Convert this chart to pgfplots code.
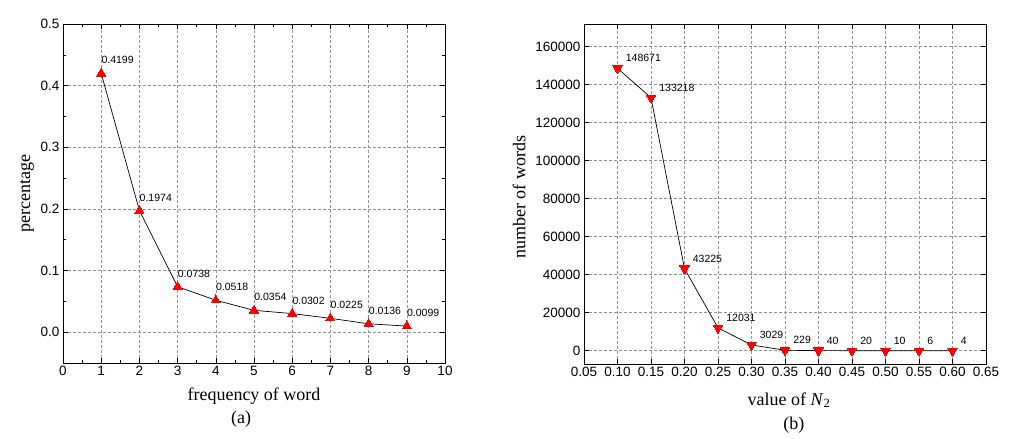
\documentclass[border=0pt]{standalone}
\usepackage{fontspec}
\setmainfont{Liberation Serif}
\setsansfont{Liberation Sans}
\usepackage{pgfplots}
\pgfplotsset{compat=1.18}
\pgfplotsset{
  myax/.style={
    scale only axis,
    anchor=south west,
    axis line style={black, line width=0.8pt},
    tick style={black, line width=0.6pt},
    tick align=inside,
    major tick length=5pt,
    minor tick length=3pt,
    xtick pos=both, ytick pos=both,
    grid=major,
    major grid style={gray!85, dash pattern=on 3pt off 2pt, line width=0.6pt},
    ticklabel style={font=\sffamily\fontsize{13.5}{15}\selectfont},
    /pgf/number format/assume math mode=true,
    label style={font=\rmfamily\fontsize{18}{20}\selectfont},
    nodes near coords,
    point meta=explicit symbolic,
    every node near coord/.append style={font=\sffamily\fontsize{10.5}{12}\selectfont, black, anchor=west},
    clip=false,
  }
}
\begin{document}
\begin{tikzpicture}
\useasboundingbox (0pt,0pt) rectangle (1021pt,439pt);
% ---------- (a)
\begin{axis}[myax,
  at={(63pt,76pt)}, width=382pt, height=339pt,
  xmin=0, xmax=10, ymin=-0.05, ymax=0.5,
  xtick={0,1,2,3,4,5,6,7,8,9,10},
  ytick={0,0.1,0.2,0.3,0.4,0.5},
  minor x tick num=1, minor y tick num=1,
  yticklabel style={/pgf/number format/.cd, fixed, fixed zerofill, precision=1},
  xlabel={frequency of word},
  xlabel style={at={(axis description cs:0.5,0)}, anchor=center, yshift=-33pt},
  ylabel={percentage},
  ylabel style={at={([xshift=-36pt]axis description cs:0,0.5)}, anchor=center},
  every node near coord/.append style={xshift=-3pt, yshift=13pt},
]
\addplot[black, line width=0.7pt, mark=triangle*, mark size=5.3pt,
  mark options={fill=red, draw=red, line width=0pt}] coordinates {
  (1,0.4199) [0.4199]
  (2,0.1974) [0.1974]
  (3,0.0738) [0.0738]
  (4,0.0518) [0.0518]
  (5,0.0354) [0.0354]
  (6,0.0302) [0.0302]
  (7,0.0225) [0.0225]
  (8,0.0136) [0.0136]
  (9,0.0099) [0.0099]
};
\node[font=\rmfamily\fontsize{18}{20}\selectfont] at ([yshift=-56pt]axis description cs:0.466,0) {(a)};
\end{axis}
% ---------- (b)
\begin{axis}[myax,
  at={(584pt,75pt)}, width=402pt, height=340pt,
  xmin=0.05, xmax=0.65, ymin=-7000, ymax=172000,
  xtick={0.05,0.10,0.15,0.20,0.25,0.30,0.35,0.40,0.45,0.50,0.55,0.60,0.65},
  ytick={0,20000,40000,60000,80000,100000,120000,140000,160000},
  scaled y ticks=false, scaled x ticks=false,
  xticklabel style={/pgf/number format/.cd, fixed, fixed zerofill, precision=2},
  yticklabel style={/pgf/number format/.cd, fixed, set thousands separator={}},
  xlabel={value of \textit{N}\textsubscript{2}},
  xlabel style={at={(axis description cs:0.51,0)}, anchor=center, yshift=-36pt},
  ylabel={number of words},
  ylabel style={at={([xshift=-65pt]axis description cs:0,0.49)}, anchor=center},
  every node near coord/.append style={xshift=5pt, yshift=10pt},
]
\addplot[black, line width=0.7pt, mark=triangle*, mark size=5.3pt,
  mark options={fill=red, draw=red, line width=0pt, rotate=180}] coordinates {
  (0.10,148671) [148671]
  (0.15,133218) [133218]
  (0.20,43225) [43225]
  (0.25,12031) [12031]
  (0.30,3029) [3029]
  (0.35,229) [229]
  (0.40,40) [40]
  (0.45,20) [20]
  (0.50,10) [10]
  (0.55,6) [6]
  (0.60,4) [4]
};
\node[font=\rmfamily\fontsize{18}{20}\selectfont] at ([yshift=-61pt]axis description cs:0.522,0) {(b)};
\end{axis}
\end{tikzpicture}
\end{document}
